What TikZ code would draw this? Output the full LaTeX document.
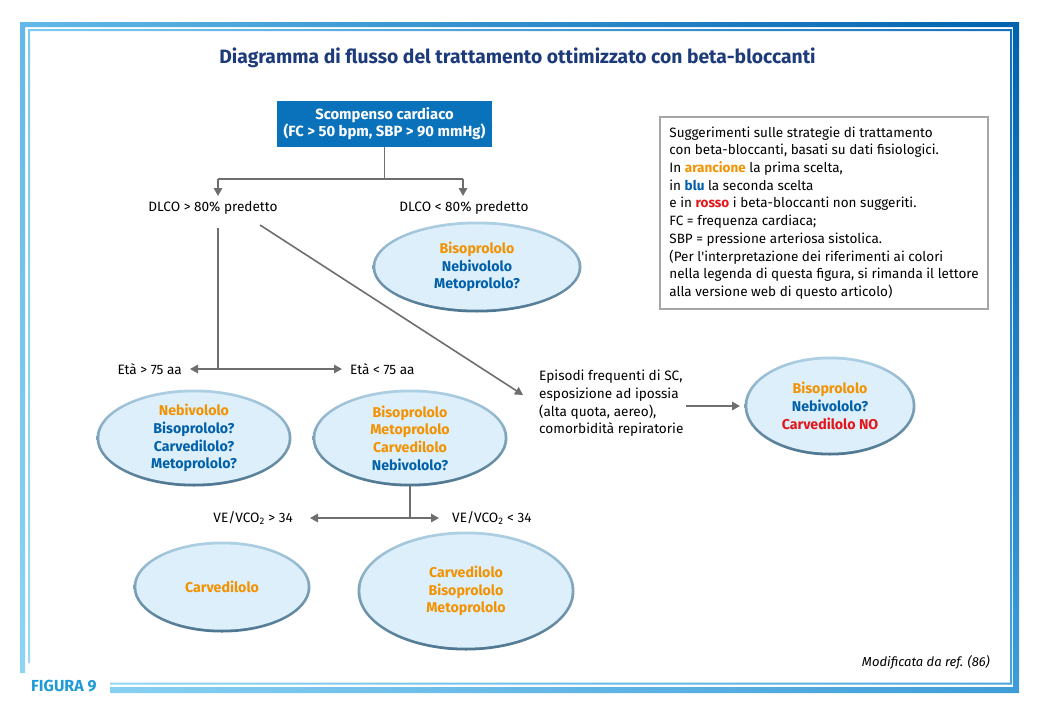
\documentclass[tikz,border=0pt]{standalone}
\usepackage{fontspec}
\setmainfont{Fira Sans}
\usetikzlibrary{arrows.meta,shapes.geometric,shadings}
\definecolor{navy}{HTML}{1D3B7B}
\definecolor{boxblue}{HTML}{0A72BA}
\definecolor{orng}{HTML}{F39200}
\definecolor{blu}{HTML}{0060AA}
\definecolor{rossa}{HTML}{E3161B}
\definecolor{ellfill}{HTML}{DDEFFA}
\definecolor{ringtop}{HTML}{AED0E4}
\definecolor{ringbot}{HTML}{4E7690}
\definecolor{arr}{HTML}{6E6E6E}
\definecolor{figblue}{HTML}{1E9BD7}
\definecolor{legframe}{HTML}{A6A6A6}
\definecolor{fUL}{HTML}{62B8E8}
\definecolor{fUR}{HTML}{0062AF}
\definecolor{fLL}{HTML}{8FD5F6}
\definecolor{fLR}{HTML}{3E9DD8}
\definecolor{tUL}{HTML}{7CCAF0}
\definecolor{tUR}{HTML}{1670BA}
\definecolor{tLL}{HTML}{9ADAF7}
\definecolor{tLR}{HTML}{4AA5DC}
\newcommand\bub[6]{%
  \shade[top color=ringtop,bottom color=ringbot] (#2,-#3) ellipse [x radius=#4+1.5, y radius=#5+1.5];
  \fill[ellfill] (#2,-#3) ellipse [x radius=#4-1.3, y radius=#5-1.3];
  \node[bubtxt] (#1) at (#2,-#3) {#6};}
\newcommand\OR[1]{\textcolor{orng}{#1}}
\newcommand\BL[1]{\textcolor{blu}{#1}}
\newcommand\RD[1]{\textcolor{rossa}{#1}}
\begin{document}
\begin{tikzpicture}[x=1pt,y=1pt,
  font=\fontsize{13.6}{17.7}\selectfont,
  line/.style={draw=arr, line width=1.6pt},
  conn/.style={draw=arr, line width=1.6pt, -{Triangle[length=8pt,width=8.5pt]}},
  lbl/.style={inner sep=2pt, text=black},
  bubtxt/.style={align=center, font=\fontsize{14.2}{17.7}\selectfont\bfseries, inner sep=0pt},
  legend/.style={draw=legframe, line width=1.2pt, inner sep=0pt,
    minimum width=328pt, minimum height=192pt, align=left, font=\fontsize{13.5}{17.7}\selectfont}]
\useasboundingbox (0,0) rectangle (1043,-720);
% frame bands
\shade[upper left=fUL, upper right=fUR, lower left=fLL, lower right=fLR]
  (20,-22) -- (1019,-22) -- (1019,-693) -- (110,-693) -- (110,-687) -- (1013,-687)
  -- (1013,-27) -- (25,-27) -- (25,-673) -- (20,-673) -- cycle;
\shade[upper left=tUL, upper right=tUR, lower left=tLL, lower right=tLR]
  (28,-29) -- (1012,-29) -- (1012,-684.5) -- (110,-684.5) -- (110,-682.5) -- (1010,-682.5)
  -- (1010,-31) -- (30,-31) -- (30,-663) -- (28,-663) -- cycle;
\node[text=figblue, font=\fontsize{16}{18}\selectfont\bfseries, anchor=west, inner sep=0pt] (fig) at (31,-686) {FIGURA 9};
% title
\node[text=navy, font=\fontsize{19.3}{22}\selectfont\bfseries] (title) at (517.5,-58) {Diagramma di flusso del trattamento ottimizzato con beta-bloccanti};
% top box
\node[fill=boxblue, text=white, font=\fontsize{14.8}{17}\selectfont\bfseries, align=center,
  minimum width=215pt, minimum height=46pt, inner sep=0pt] (top) at (384.5,-124)
  {Scompenso cardiaco\\(FC > 50 bpm, SBP > 90 mmHg)};
% labels
\node[lbl] (dlcoA) at (213,-208) {DLCO > 80\% predetto};
\node[lbl] (dlcoB) at (464,-208) {DLCO < 80\% predetto};
\node[lbl, anchor=east] (etaA) at (184,-369) {Età > 75 aa};
\node[lbl, anchor=west] (etaB) at (348,-369) {Età < 75 aa};
\node[lbl, anchor=east] (veA) at (295,-518) {VE/VCO\textsubscript{2} > 34};
\node[lbl, anchor=west] (veB) at (450,-518) {VE/VCO\textsubscript{2} < 34};
\node[lbl, anchor=west, align=left] (epi) at (537,-403.5)
  {Episodi frequenti di SC,\\esposizione ad ipossia\\(alta quota, aereo),\\comorbidità repiratorie};
% bubbles
\bub{eDL}{477}{267}{103}{44}{\OR{Bisoprololo}\\\BL{Nebivololo}\\\BL{Metoprololo?}}
\bub{eEA}{194}{438}{96}{47}{\OR{Nebivololo}\\\BL{Bisoprololo?}\\\BL{Carvedilolo?}\\\BL{Metoprololo?}}
\bub{eEB}{410}{438}{96}{47}{\OR{Bisoprololo}\\\OR{Metoprololo}\\\OR{Carvedilolo}\\\BL{Nebivololo?}}
\bub{eEP}{830}{406}{84}{48}{\OR{Bisoprololo}\\\BL{Nebivololo?}\\\RD{Carvedilolo NO}}
\bub{eVA}{222}{587}{87}{44}{\OR{Carvedilolo}}
\bub{eVB}{466}{591}{107}{58}{\OR{Carvedilolo}\\\OR{Bisoprololo}\\\OR{Metoprololo}}
% legend
\node[legend] (leg) at (824,-213) {Suggerimenti sulle strategie di trattamento\\
con beta-bloccanti, basati su dati fisiologici.\\
In \textbf{\OR{arancione}} la prima scelta,\\
in \textbf{\BL{blu}} la seconda scelta\\
e in \textbf{\RD{rosso}} i beta-bloccanti non suggeriti.\\
FC = frequenza cardiaca;\\
SBP = pressione arteriosa sistolica.\\
(Per l\textquotesingle interpretazione dei riferimenti ai colori\\
nella legenda di questa figura, si rimanda il lettore\\
alla versione web di questo articolo)};
\node[anchor=east, font=\fontsize{13}{16}\selectfont\itshape, inner sep=0pt] (mod) at (990,-662) {Modificata da ref. (86)};
% connector points
\coordinate (j1) at (384.5,-179);
\coordinate (jA) at (218,-179);
\coordinate (jB) at (463,-179);
\coordinate (aA) at (218,-196);
\coordinate (aB) at (463,-196);
\coordinate (v0) at (218,-228);
\coordinate (jE) at (218,-369);
\coordinate (eL) at (190,-369);
\coordinate (eR) at (342,-369);
\coordinate (d0) at (260,-225);
\coordinate (d1) at (523,-395);
\coordinate (p0) at (686,-406);
\coordinate (p1) at (740,-406);
\coordinate (jV) at (410,-518);
\coordinate (vL) at (310,-518);
\coordinate (vR) at (439,-518);
% connectors
\draw[line] (top.south) -- (j1);
\draw[line] (jA) -- (jB);
\draw[conn] (jA) -- (aA);
\draw[conn] (jB) -- (aB);
\draw[line] (v0) -- (jE);
\draw[conn] (jE) -- (eL);
\draw[conn] (jE) -- (eR);
\draw[conn] (d0) -- (d1);
\draw[conn] (p0) -- (p1);
\draw[line] (eEB.center |- 0,-485) -- (jV);
\draw[conn] (jV) -- (vL);
\draw[conn] (jV) -- (vR);
\end{tikzpicture}
\end{document}
